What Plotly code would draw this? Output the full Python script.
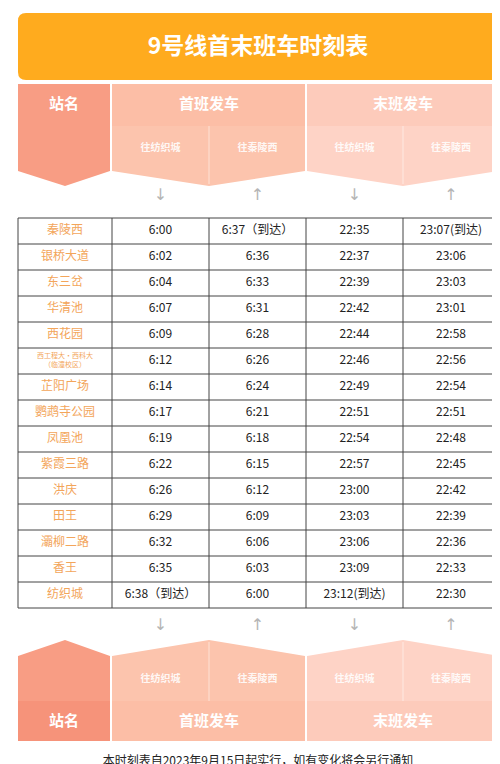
import plotly.graph_objects as go

stations = ["秦陵西", "银桥大道", "东三岔", "华清池", "西花园", "西工程大·西科大<br>（临潼校区）",
            "芷阳广场", "鹦鹉寺公园", "凤凰池", "紫霞三路", "洪庆", "田王", "灞柳二路", "香王", "纺织城"]
first_to_fzc = ["6:00", "6:02", "6:04", "6:07", "6:09", "6:12", "6:14", "6:17", "6:19", "6:22",
                "6:26", "6:29", "6:32", "6:35", "6:38（到达）"]
first_to_qlx = ["6:37（到达）", "6:36", "6:33", "6:31", "6:28", "6:26", "6:24", "6:21", "6:18", "6:15",
                "6:12", "6:09", "6:06", "6:03", "6:00"]
last_to_fzc = ["22:35", "22:37", "22:39", "22:42", "22:44", "22:46", "22:49", "22:51", "22:54", "22:57",
               "23:00", "23:03", "23:06", "23:09", "23:12(到达)"]
last_to_qlx = ["23:07(到达)", "23:06", "23:03", "23:01", "22:58", "22:56", "22:54", "22:51", "22:48", "22:45",
               "22:42", "22:39", "22:36", "22:33", "22:30"]
group_labels = ["站名", "首班发车", "末班发车"]
dir_labels = ["往纺织城", "往秦陵西", "往纺织城", "往秦陵西"]
dir_arrows = ["↓", "↑", "↓", "↑"]
footer = "本时刻表自2023年9月15日起实行，如有变化将会另行通知"

FONT = "Noto Sans CJK SC"
col_edges = [10, 104, 201, 298, 395, 491]
col_mid = [(col_edges[i] + col_edges[i + 1]) / 2 for i in range(5)]
top, row_h = 210, 26
n = len(stations)
row_y = [top + row_h * (i + 0.5) for i in range(n)]

fig = go.Figure()
shapes = []

def poly(pts, color):
    d = "M " + " L ".join(f"{x},{y}" for x, y in pts) + " Z"
    shapes.append(dict(type="path", path=d, fillcolor=color, line=dict(width=0), layer="below"))

# title banner
shapes.append(dict(type="path", layer="below", fillcolor="#ffab1e", line=dict(width=0),
                   path="M 18,5 L 483,5 Q 491,5 491,13 L 491,64 Q 491,72 483,72 L 18,72 Q 10,72 10,64 L 10,13 Q 10,5 18,5 Z"))

# top header blocks
poly([(10, 76), (102, 76), (102, 163), (57, 178), (10, 163)], "#f89d84")
poly([(104, 76), (297, 76), (297, 118), (104, 118)], "#fcbea6")
poly([(104, 118), (297, 118), (297, 163), (201, 178), (104, 163)], "#fcc4ad")
poly([(299, 76), (491, 76), (491, 118), (299, 118)], "#fdcbbb")
poly([(299, 118), (491, 118), (491, 163), (395, 178), (299, 163)], "#fed3c6")
for x in (201, 395):
    shapes.append(dict(type="line", x0=x, x1=x, y0=118, y1=176, line=dict(color="rgba(255,255,255,0.5)", width=1)))

# bottom header blocks
poly([(10, 648), (57, 632), (102, 648), (102, 733), (10, 733)], "#f89d84")
poly([(10, 693), (102, 693), (102, 733), (10, 733)], "#f6937a")
poly([(104, 648), (201, 632), (297, 648), (297, 693), (104, 693)], "#fcc4ad")
poly([(104, 693), (297, 693), (297, 733), (104, 733)], "#fcbea6")
poly([(299, 648), (395, 632), (491, 648), (491, 693), (299, 693)], "#fed3c6")
poly([(299, 693), (491, 693), (491, 733), (299, 733)], "#fdcbbb")
for x in (201, 395):
    shapes.append(dict(type="line", x0=x, x1=x, y0=634, y1=693, line=dict(color="rgba(255,255,255,0.5)", width=1)))

# table grid
bottom = top + row_h * n
for i in range(n + 1):
    shapes.append(dict(type="line", x0=col_edges[0], x1=col_edges[-1], y0=top + row_h * i, y1=top + row_h * i,
                       line=dict(color="#444", width=1)))
for x in col_edges:
    shapes.append(dict(type="line", x0=x, x1=x, y0=top, y1=bottom, line=dict(color="#444", width=1)))

# table text
fig.add_trace(go.Scatter(x=[col_mid[0]] * n, y=row_y, mode="text", text=stations,
                         textfont=dict(family=FONT, size=[12 if "<br>" not in s else 7 for s in stations], color="#f3a55a")))
for j, col in enumerate([first_to_fzc, first_to_qlx, last_to_fzc, last_to_qlx]):
    fig.add_trace(go.Scatter(x=[col_mid[j + 1]] * n, y=row_y, mode="text", text=col,
                             textfont=dict(family=FONT, size=12, color="#222")))

# header texts
fig.add_trace(go.Scatter(x=[250], y=[40], mode="text", text=["<b>9号线首末班车时刻表</b>"],
                         textfont=dict(family=FONT, size=23, color="white")))
gx = [56, 201, 395]
fig.add_trace(go.Scatter(x=gx, y=[97] * 3, mode="text", text=[f"<b>{t}</b>" for t in group_labels],
                         textfont=dict(family=FONT, size=15, color="white")))
fig.add_trace(go.Scatter(x=gx, y=[714] * 3, mode="text", text=[f"<b>{t}</b>" for t in group_labels],
                         textfont=dict(family=FONT, size=15, color="white")))
fig.add_trace(go.Scatter(x=col_mid[1:], y=[140] * 4, mode="text", text=[f"<b>{t}</b>" for t in dir_labels],
                         textfont=dict(family=FONT, size=10, color="rgba(255,255,255,0.9)")))
fig.add_trace(go.Scatter(x=col_mid[1:], y=[671] * 4, mode="text", text=[f"<b>{t}</b>" for t in dir_labels],
                         textfont=dict(family=FONT, size=10, color="rgba(255,255,255,0.9)")))
fig.add_trace(go.Scatter(x=col_mid[1:], y=[188] * 4, mode="text", text=dir_arrows,
                         textfont=dict(family="DejaVu Sans", size=16, color="#b5b5b5")))
fig.add_trace(go.Scatter(x=col_mid[1:], y=[618] * 4, mode="text", text=dir_arrows,
                         textfont=dict(family="DejaVu Sans", size=16, color="#b5b5b5")))
fig.add_trace(go.Scatter(x=[250], y=[754], mode="text", text=[footer],
                         textfont=dict(family=FONT, size=12, color="#222")))

fig.update_layout(width=500, height=764, margin=dict(l=0, r=0, t=0, b=0), showlegend=False,
                  plot_bgcolor="white", paper_bgcolor="white", shapes=shapes,
                  xaxis=dict(range=[0, 500], visible=False, fixedrange=True),
                  yaxis=dict(range=[764, 0], visible=False, fixedrange=True))
fig.write_html("out.html")
